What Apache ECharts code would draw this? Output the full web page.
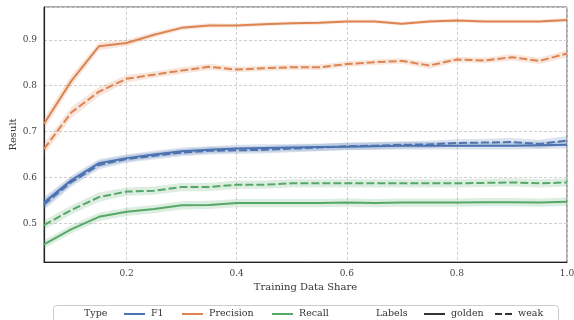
<!DOCTYPE html>
<html><head><meta charset="utf-8">
<script src="https://cdn.jsdelivr.net/npm/echarts@6/dist/echarts.min.js"></script>
<style>html,body{margin:0;padding:0;background:#fff}#c{width:574px;height:320px}</style>
</head><body><div id="c"></div>
<script>
const shares = [0.05,0.1,0.15,0.2,0.25,0.3,0.35,0.4,0.45,0.5,0.55,0.6,0.65,0.7,0.75,0.8,0.85,0.9,0.95,1.0];
const precisionGolden = [0.717,0.811,0.886,0.893,0.911,0.926,0.931,0.931,0.934,0.936,0.937,0.940,0.940,0.935,0.940,0.942,0.940,0.940,0.940,0.943];
const precisionWeak   = [0.662,0.742,0.787,0.815,0.824,0.833,0.841,0.835,0.838,0.840,0.840,0.847,0.851,0.854,0.844,0.857,0.855,0.862,0.854,0.870];
const f1Golden        = [0.545,0.594,0.631,0.642,0.650,0.657,0.660,0.663,0.664,0.665,0.666,0.667,0.668,0.669,0.669,0.669,0.669,0.669,0.670,0.671];
const f1Weak          = [0.541,0.590,0.627,0.640,0.647,0.654,0.658,0.659,0.660,0.663,0.665,0.668,0.669,0.671,0.672,0.675,0.676,0.677,0.673,0.680];
const recallGolden    = [0.454,0.487,0.514,0.525,0.531,0.539,0.540,0.544,0.544,0.544,0.544,0.545,0.544,0.545,0.545,0.545,0.546,0.546,0.545,0.547];
const recallWeak      = [0.496,0.529,0.557,0.569,0.571,0.579,0.579,0.584,0.584,0.587,0.587,0.587,0.587,0.587,0.587,0.587,0.588,0.589,0.587,0.589];
// confidence band half-widths
const ciPrecisionGolden = [0.012,0.012,0.008,0.007,0.006,0.005,0.005,0.004,0.004,0.004,0.004,0.004,0.004,0.004,0.004,0.004,0.004,0.004,0.004,0.004];
const ciPrecisionWeak   = [0.012,0.012,0.010,0.008,0.007,0.007,0.007,0.006,0.006,0.006,0.006,0.006,0.006,0.006,0.007,0.006,0.006,0.007,0.007,0.008];
const ciF1Golden        = [0.012,0.010,0.009,0.008,0.008,0.008,0.008,0.008,0.008,0.008,0.008,0.008,0.008,0.008,0.008,0.008,0.008,0.008,0.008,0.008];
const ciF1Weak          = [0.012,0.010,0.009,0.008,0.008,0.008,0.008,0.008,0.008,0.008,0.008,0.008,0.008,0.008,0.008,0.008,0.008,0.009,0.009,0.010];
const ciRecallGolden    = [0.009,0.009,0.009,0.009,0.009,0.009,0.009,0.009,0.009,0.009,0.009,0.009,0.009,0.009,0.009,0.009,0.009,0.009,0.009,0.009];
const ciRecallWeak      = [0.010,0.010,0.010,0.009,0.009,0.009,0.009,0.009,0.009,0.009,0.009,0.009,0.009,0.009,0.009,0.009,0.009,0.009,0.009,0.009];

const C = {F1:'#4c72b0', Precision:'#dd8452', Recall:'#55a868'};
const FONT = "'DejaVu Serif', serif";
const DASH = [8,3];

const groups = [
  ['F1', f1Golden, ciF1Golden, 'solid'],
  ['F1', f1Weak, ciF1Weak, 'dashed'],
  ['Precision', precisionGolden, ciPrecisionGolden, 'solid'],
  ['Precision', precisionWeak, ciPrecisionWeak, 'dashed'],
  ['Recall', recallGolden, ciRecallGolden, 'solid'],
  ['Recall', recallWeak, ciRecallWeak, 'dashed']
];
const series = [];
groups.forEach((g, i) => {
  const [name, vals, ci] = g;
  const lo = vals.map((v,k)=>v-ci[k]);
  const hi = vals.map((v,k)=>v+ci[k]);
  series.push({type:'custom', name:'band'+i, silent:true, z:1, clip:true,
    data: shares.map((x,k)=>[x, lo[k], hi[k]]),
    encode:{x:0, y:[1,2]},
    renderItem:(params, api) => {
      if (params.dataIndex !== 0) return null;
      const top = shares.map((x,k)=>api.coord([x, hi[k]]));
      const bot = shares.map((x,k)=>api.coord([x, lo[k]])).reverse();
      return {type:'polygon', shape:{points: top.concat(bot)},
        style:{fill:C[name], opacity:0.2}};
    }});
});
groups.forEach((g) => {
  const [name, vals, , style] = g;
  series.push({type:'line', name:name, data: shares.map((x,k)=>[x, vals[k]]), symbol:'none', showSymbol:false, z:3,
    itemStyle:{color:C[name]},
    lineStyle:{color:C[name], width:2, type: style==='solid' ? 'solid' : DASH}});
});
series.push({type:'line', name:'golden', data:[], symbol:'none', showSymbol:false, itemStyle:{color:'#333'}, lineStyle:{color:'#333', width:2, type:'solid'}});
series.push({type:'line', name:'weak', data:[], symbol:'none', showSymbol:false, itemStyle:{color:'#333'}, lineStyle:{color:'#333', width:2, type:[7,3]}});

const SOLID_ICON = 'path://M0,0H21V2H0Z';
const DASH_ICON = 'path://M0,0H7V2H0Z M10,0H17V2H10Z';
function lg(name, left, w, icon) {
  return {show:true, data:[{name:name, icon:icon}], left:left, top:309, itemWidth:w, itemHeight:2, itemGap:0,
    selectedMode:false, padding:0,
    textStyle:{fontFamily:FONT, fontSize:9.5, color:'#333', padding:[0,0,0,1]}};
}

const chart = echarts.init(document.getElementById('c'), null, {renderer:'canvas'});
chart.setOption({
  animation:false,
  backgroundColor:'#fff',
  grid:{left:44, right:7, top:7, bottom:58, show:true, borderColor:'#555', borderWidth:1,
    containLabel:false, outerBoundsMode:'none'},
  xAxis:{type:'value', min:0.05, max:1.0, splitNumber:5,
    name:'Training Data Share', nameLocation:'middle', nameGap:18,
    nameTextStyle:{fontFamily:FONT, fontSize:10, color:'#333'},
    axisLine:{lineStyle:{color:'#222', width:1.2}}, axisTick:{show:false},
    axisLabel:{fontFamily:FONT, fontSize:9, color:'#444', margin:7, showMinLabel:false,
      formatter:v=>v.toFixed(1)},
    splitLine:{lineStyle:{color:'#d0d0d0', type:[3,2], width:1}}},
  yAxis:{type:'value', min:0.4155, max:0.9715, splitNumber:5,
    name:'Result', nameLocation:'middle', nameGap:26, nameMoveOverlap:false,
    nameTextStyle:{fontFamily:FONT, fontSize:10, color:'#333'},
    axisLine:{show:true, lineStyle:{color:'#222', width:1.2}}, axisTick:{show:false},
    axisLabel:{fontFamily:FONT, fontSize:9, color:'#444', margin:7, showMinLabel:false, showMaxLabel:false,
      formatter:v=>v.toFixed(1)},
    splitLine:{lineStyle:{color:'#d0d0d0', type:[3,2], width:1}}},
  legend:[lg('F1',124,21,SOLID_ICON), lg('Precision',182,21,SOLID_ICON), lg('Recall',272,21,SOLID_ICON),
          lg('golden',424,21,SOLID_ICON), lg('weak',495,17,DASH_ICON)],
  graphic:[
    {type:'rect', shape:{x:53.5, y:305.5, width:505, height:24, r:3}, style:{fill:'#fff', stroke:'#ccc', lineWidth:1}, z:-1, silent:true},
    {type:'text', left:84, top:308.5, style:{text:'Type', font:"9.5px 'DejaVu Serif', serif", fill:'#333'}},
    {type:'text', left:376, top:308.5, style:{text:'Labels', font:"9.5px 'DejaVu Serif', serif", fill:'#333'}}
  ],
  series:series
});
</script></body></html>
